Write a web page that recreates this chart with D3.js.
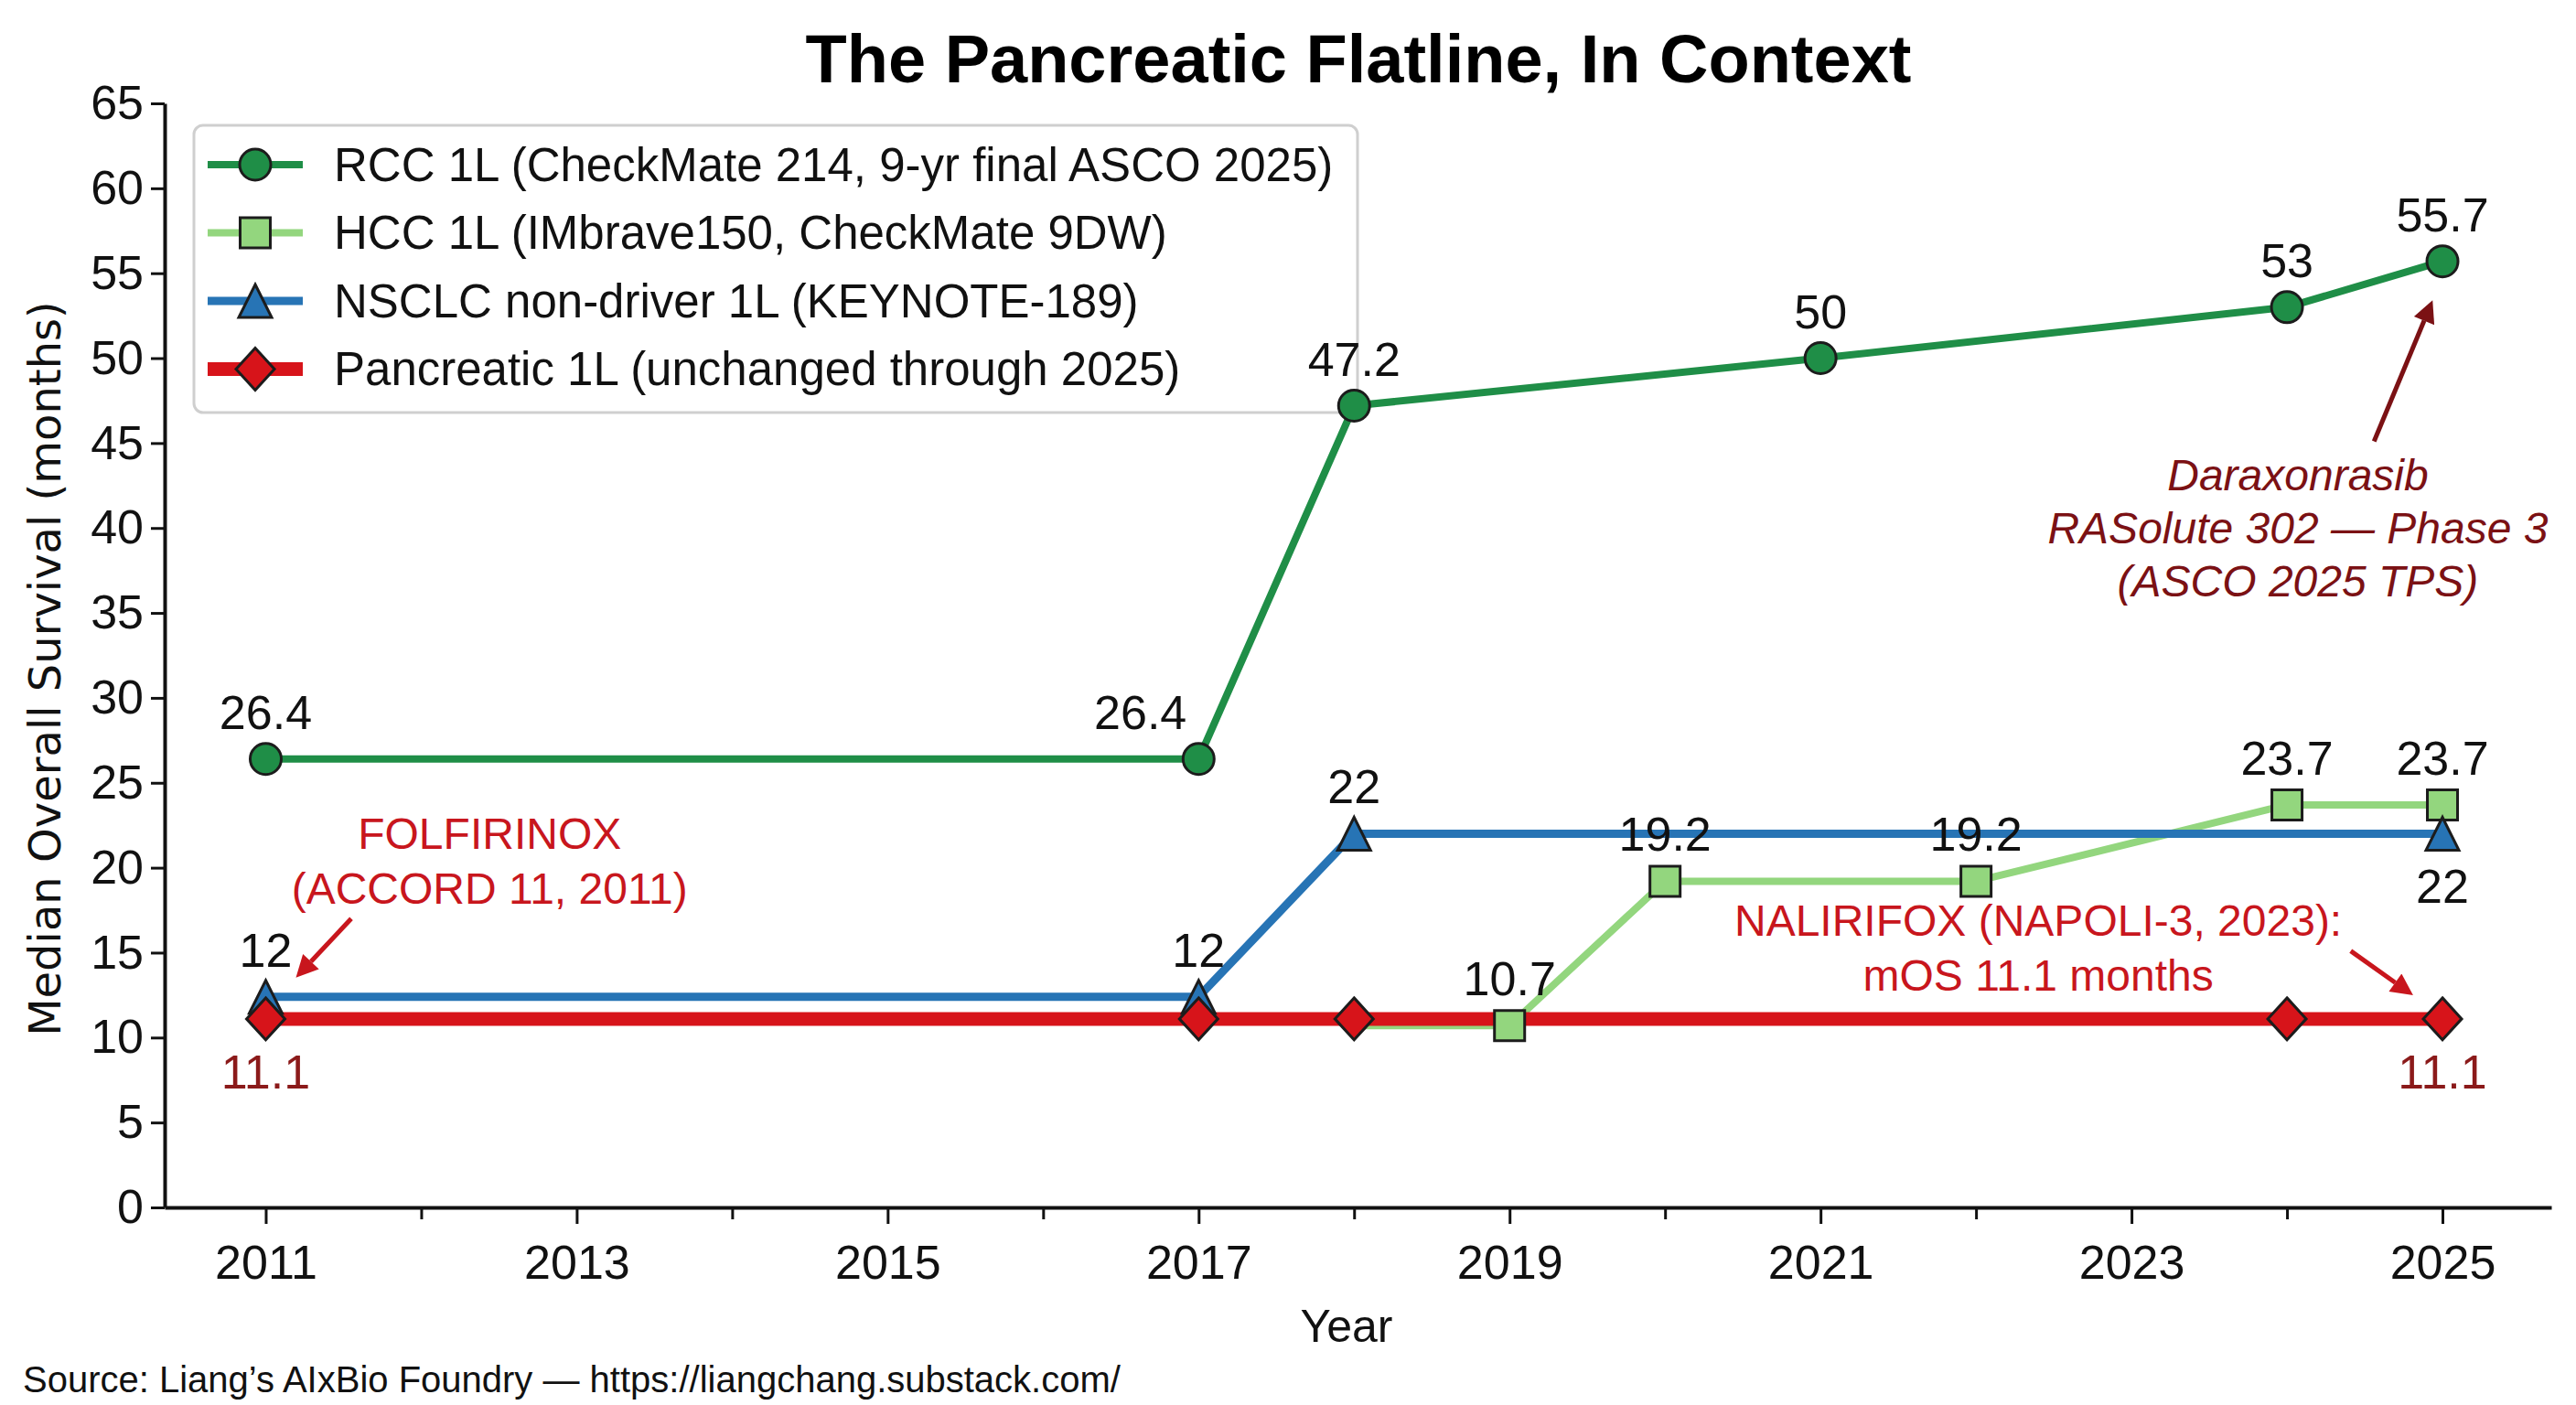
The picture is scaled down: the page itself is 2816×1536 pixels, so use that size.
<!DOCTYPE html>
<html>
<head>
<meta charset="utf-8">
<script src="https://cdn.jsdelivr.net/npm/d3@7"></script>
<style>
  body { margin: 0; background: #fff; }
  text { font-family: "Liberation Sans", Arial, sans-serif; }
</style>
</head>
<body>
<script>
// Size of the picture
const w = 2816;
const h = 1536;

// Data
const allYears = d3.range(2011, 2026);
const yTicks = d3.range(0, 66, 5);

const rccYears = [2011, 2017, 2018, 2021, 2024, 2025];
const rccValues = [26.4, 26.4, 47.2, 50, 53, 55.7];
const rccLabels = ["26.4", "26.4", "47.2", "50", "53", "55.7"];

const hccYears = [2018, 2019, 2020, 2022, 2024, 2025];
const hccValues = [10.7, 10.7, 19.2, 19.2, 23.7, 23.7];
const hccLabels = ["", "10.7", "19.2", "19.2", "23.7", "23.7"];
const hccMarked = [false, true, true, true, true, true];

const nsclcYears = [2011, 2017, 2018, 2025];
const nsclcValues = [12.4, 12.4, 22, 22];
const nsclcLabels = ["12", "12", "22", "22"];

const pancYears = [2011, 2017, 2018, 2024, 2025];
const pancValues = [11.1, 11.1, 11.1, 11.1, 11.1];
const pancLabels = ["11.1", "", "", "", "11.1"];

const legendNames = [
  "RCC 1L (CheckMate 214, 9-yr final ASCO 2025)",
  "HCC 1L (IMbrave150, CheckMate 9DW)",
  "NSCLC non-driver 1L (KEYNOTE-189)",
  "Pancreatic 1L (unchanged through 2025)",
];

// series table built from the arrays above
const series = [
  { key: "RCC", years: rccYears, values: rccValues, labels: rccLabels, color: "#1f8e47", width: 8, shape: "circle" },
  { key: "HCC", years: hccYears, values: hccValues, labels: hccLabels, marked: hccMarked, color: "#93d67e", width: 8, shape: "square" },
  { key: "NSCLC", years: nsclcYears, values: nsclcValues, labels: nsclcLabels, color: "#2774b5", width: 9, shape: "triangle" },
  { key: "Pancreatic", years: pancYears, values: pancValues, labels: pancLabels, color: "#d7141a", width: 15, shape: "diamond" },
].map(function (s, i) {
  s.name = legendNames[i];
  s.points = s.years.map(function (yr, j) {
    return { year: yr, value: s.values[j], label: s.labels[j], marked: s.marked ? s.marked[j] : true };
  });
  return s;
});

// where the value labels sit (default above)
const labelPlace = {
  "RCC-2017": "left",
  "NSCLC-2025": "below",
  "Pancreatic-2011": "below",
  "Pancreatic-2025": "below",
};

// annotations, positions in data units
const notes = [
  { lines: ["FOLFIRINOX", "(ACCORD 11, 2011)"], x: 2012.44, y: 21.1, color: "#c8161d", italic: false,
    from: [2011.55, 17.0], to: [2011.17, 13.3] },
  { lines: ["NALIRIFOX (NAPOLI-3, 2023):", "mOS 11.1 months"], x: 2022.4, y: 16.0, color: "#c8161d", italic: false,
    from: [2024.41, 15.1], to: [2024.84, 12.3] },
  { lines: ["Daraxonrasib", "RASolute 302 \u2014 Phase 3", "(ASCO 2025 TPS)"], x: 2024.07, y: 42.2, color: "#7b1114", italic: true,
    from: [2024.56, 45.1], to: [2024.95, 53.7] },
];

const svg = d3.select("body").append("svg").attr("width", w).attr("height", h);
svg.append("rect").attr("width", w).attr("height", h).attr("fill", "#fff");

const x = d3.scaleLinear().domain([2010.35, 2025.7]).range([180, 2789]);
const y = d3.scaleLinear().domain([0, 65]).range([1320, 113]);

// marker shapes
function markerPath(shape) {
  if (shape === "circle") return "M17,0A17,17 0 1,1 -17,0A17,17 0 1,1 17,0Z";
  if (shape === "square") return "M-16.5,-16.5H16.5V16.5H-16.5Z";
  if (shape === "triangle") return "M0,-18L18,18H-18Z";
  return "M0,-23L21,0L0,23L-21,0Z";
}

// Legend (drawn first, the marks sit on top of its frame)
const lg = svg.append("g");
lg.append("rect")
  .attr("x", 212).attr("y", 137).attr("width", 1272).attr("height", 314)
  .attr("rx", 10)
  .attr("fill", "#fff")
  .attr("stroke", "#cfcfcf").attr("stroke-width", 3);

series.forEach(function (s, i) {
  const ry = 180 + i * 74.5;
  lg.append("line")
    .attr("x1", 227).attr("x2", 331).attr("y1", ry).attr("y2", ry)
    .attr("stroke", s.color).attr("stroke-width", s.width);
  lg.append("path")
    .attr("d", markerPath(s.shape))
    .attr("transform", "translate(279," + ry + ")")
    .attr("fill", s.color).attr("stroke", "#1c1c1c").attr("stroke-width", 3);
  lg.append("text")
    .attr("x", 365).attr("y", ry).attr("dy", "0.35em")
    .attr("font-size", 51).attr("fill", "#111")
    .text(s.name);
});

// Axes
const xAxis = d3.axisBottom(x)
  .tickValues(allYears)
  .tickFormat(function (d) { return d % 2 === 1 ? String(d) : ""; })
  .tickSize(18)
  .tickSizeOuter(0)
  .tickPadding(23);

const yAxis = d3.axisLeft(y).tickValues(yTicks).tickSize(15).tickSizeOuter(0).tickPadding(8);

const gx = svg.append("g").attr("transform", "translate(0," + y(0) + ")").call(xAxis);
const gy = svg.append("g").attr("transform", "translate(" + x.range()[0] + ",0)").call(yAxis);

[gx, gy].forEach(function (g) {
  g.select(".domain").attr("stroke", "#111").attr("stroke-width", 4);
  g.selectAll(".tick line").attr("stroke", "#111").attr("stroke-width", 3);
  g.selectAll(".tick text").attr("font-size", 52).attr("fill", "#111")
    .attr("font-family", "'Liberation Sans', Arial, sans-serif");
});
// shorter ticks for even years
gx.selectAll(".tick line").filter(function (d) { return d % 2 === 0; }).attr("y2", 13);

// Lines first
const line = d3.line().x(function (d) { return x(d.year); }).y(function (d) { return y(d.value); });

svg.append("g").selectAll("path")
  .data(series)
  .enter()
  .append("path")
  .attr("d", function (s) { return line(s.points); })
  .attr("fill", "none")
  .attr("stroke", function (s) { return s.color; })
  .attr("stroke-width", function (s) { return s.width; })
  .attr("stroke-linejoin", "round");

series.forEach(function (s) {
  svg.append("g").selectAll("path")
    .data(s.points.filter(function (p) { return p.marked; }))
    .enter()
    .append("path")
    .attr("d", markerPath(s.shape))
    .attr("transform", function (p) { return "translate(" + x(p.year) + "," + y(p.value) + ")"; })
    .attr("fill", s.color)
    .attr("stroke", "#1c1c1c")
    .attr("stroke-width", 3);
});

// value labels
series.forEach(function (s) {
  svg.append("g").selectAll("text")
    .data(s.points.filter(function (p) { return p.label !== ""; }))
    .enter()
    .append("text")
    .text(function (p) { return p.label; })
    .attr("font-size", 52)
    .attr("fill", s.key === "Pancreatic" ? "#8b1a1a" : "#111")
    .attr("text-anchor", function (p) { return labelPlace[s.key + "-" + p.year] === "left" ? "end" : "middle"; })
    .attr("x", function (p) {
      return labelPlace[s.key + "-" + p.year] === "left" ? x(p.year) - 13 : x(p.year);
    })
    .attr("y", function (p) {
      return labelPlace[s.key + "-" + p.year] === "below" ? y(p.value) + 76 : y(p.value) - 33;
    });
});

// Annotations with arrows
const defs = svg.append("defs");
notes.forEach(function (n, i) {
  defs.append("marker")
    .attr("id", "head" + i)
    .attr("viewBox", "0 0 10 10")
    .attr("refX", 0)
    .attr("refY", 5)
    .attr("markerUnits", "userSpaceOnUse")
    .attr("markerWidth", 32)
    .attr("markerHeight", 24)
    .attr("orient", "auto")
    .append("path")
    .attr("d", "M0,0L10,5L0,10Z")
    .attr("fill", n.color);

  const x0 = x(n.from[0]), y0 = y(n.from[1]);
  const x1 = x(n.to[0]), y1 = y(n.to[1]);
  const len = Math.hypot(x1 - x0, y1 - y0);
  const k = (len - 30) / len;
  svg.append("line")
    .attr("x1", x0).attr("y1", y0)
    .attr("x2", x0 + (x1 - x0) * k).attr("y2", y0 + (y1 - y0) * k)
    .attr("stroke", n.color)
    .attr("stroke-width", 5)
    .attr("marker-end", "url(#head" + i + ")");

  const t = svg.append("text")
    .attr("x", x(n.x))
    .attr("y", y(n.y))
    .attr("text-anchor", "middle")
    .attr("font-size", 48)
    .attr("font-style", n.italic ? "italic" : "normal")
    .attr("fill", n.color);
  n.lines.forEach(function (l, j) {
    t.append("tspan").attr("x", x(n.x)).attr("dy", j === 0 ? 0 : (n.italic ? 58 : 60)).text(l);
  });
});

// Titles
svg.append("text")
  .attr("x", 1485).attr("y", 90)
  .attr("text-anchor", "middle")
  .attr("font-size", 74).attr("font-weight", "bold").attr("fill", "#000")
  .text("The Pancreatic Flatline, In Context");

svg.append("text")
  .attr("transform", "translate(49,731) rotate(-90)")
  .attr("dy", "0.35em")
  .attr("text-anchor", "middle")
  .attr("font-size", 48).attr("fill", "#111")
  .style("font-family", "'DejaVu Sans', sans-serif")
  .text("Median Overall Survival (months)");

svg.append("text")
  .attr("x", 1472).attr("y", 1467)
  .attr("text-anchor", "middle")
  .attr("font-size", 50).attr("fill", "#111")
  .text("Year");

svg.append("text")
  .attr("x", 25).attr("y", 1522)
  .attr("font-size", 40).attr("fill", "#111")
  .text("Source: Liang\u2019s AIxBio Foundry \u2014 https://liangchang.substack.com/");
</script>
</body>
</html>
